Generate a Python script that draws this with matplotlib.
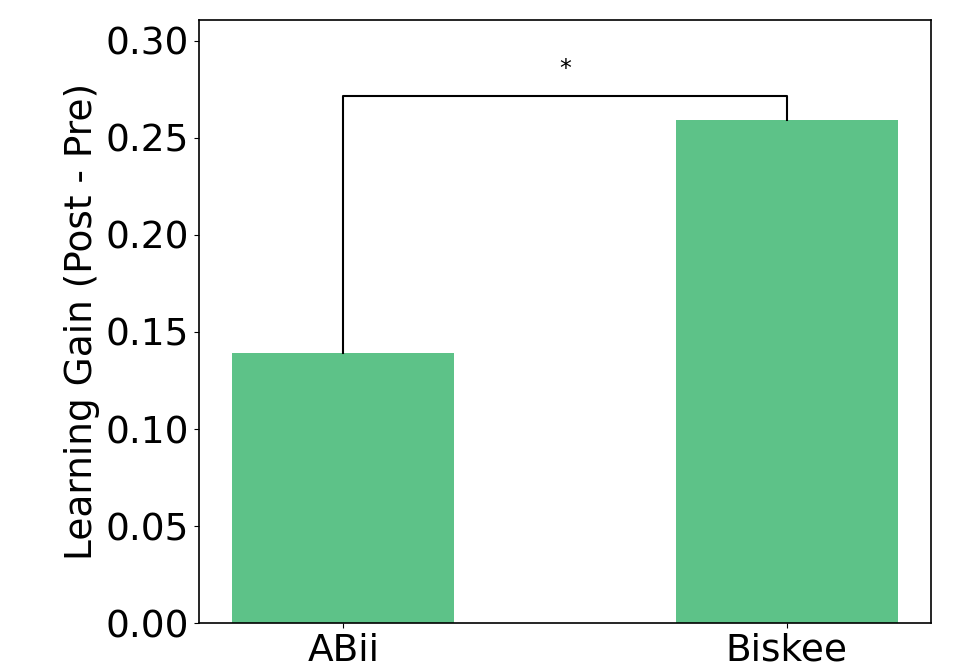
import matplotlib
matplotlib.use("Agg")
import matplotlib.pyplot as plt

# data
robots = ["ABii", "Biskee"]
gains = [0.139, 0.259]
bracket_y = 0.2716
star_y = 0.2856
sig_label = "*"

bar_color = "#5DC288"

fig = plt.figure(figsize=(9.61, 6.64), dpi=100)
ax = fig.add_axes([0.2071, 0.0617, 0.7617, 0.9082])

x = list(range(len(robots)))
ax.bar(x, gains, width=0.5, color=bar_color)

# significance bracket from bar tops up to the bar line
ax.plot([x[0], x[0], x[1], x[1]],
        [gains[0], bracket_y, bracket_y, gains[1]],
        color="black", lw=1.5)
ax.text((x[0] + x[1]) / 2, star_y, sig_label, ha="center", va="center",
        fontsize=17)

ax.set_xticks(x)
ax.set_xticklabels(robots)
ax.set_xlim(-0.325, 1.325)
ax.set_ylim(0, 0.3108)
ax.set_yticks([0.0, 0.05, 0.10, 0.15, 0.20, 0.25, 0.30])
ax.set_yticklabels([f"{v:.2f}" for v in ax.get_yticks()])
ax.tick_params(labelsize=27)
ax.set_ylabel("Learning Gain (Post - Pre)", fontsize=27)
for s in ax.spines.values():
    s.set_linewidth(1.2)

fig.savefig("out.png", dpi=100)
